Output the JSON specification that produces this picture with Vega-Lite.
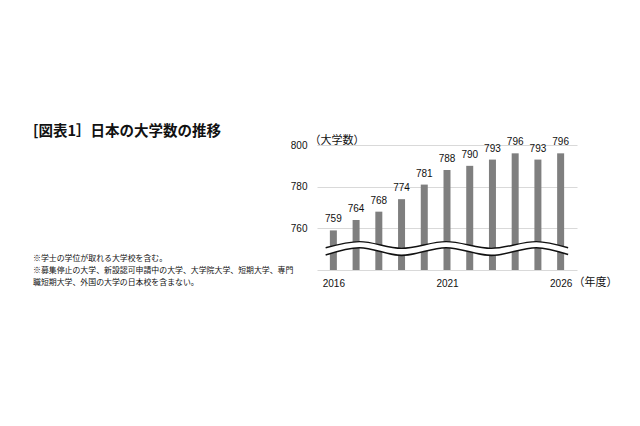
{
  "$schema": "https://vega.github.io/schema/vega-lite/v6.json",
  "width": 260,
  "height": 125,
  "autosize": {"type": "none"},
  "padding": {"left": 317, "top": 145, "right": 63, "bottom": 156},
  "background": "white",
  "config": {"view": {"stroke": null}, "font": "Noto Sans CJK JP"},
  "title": {
    "text": "[図表1］日本の大学数の推移",
    "subtitle": ["※学士の学位が取れる大学校を含む。", "※募集停止の大学、新設認可申請中の大学、大学院大学、短期大学、専門", "職短期大学、外国の大学の日本校を含まない。"],
    "anchor": "start",
    "frame": "group",
    "orient": "top",
    "font": "Noto Sans CJK JP",
    "fontSize": 14.5,
    "fontWeight": "bold",
    "color": "#111111",
    "subtitleFont": "Noto Sans CJK JP",
    "subtitleFontSize": 7.9,
    "subtitleColor": "#111111",
    "subtitleLineHeight": 12,
    "subtitlePadding": 116,
    "offset": -154,
    "dx": -284
  },
  "datasets": {
    "bars": [
      {"year": 2016, "count": 759},
      {"year": 2017, "count": 764},
      {"year": 2018, "count": 768},
      {"year": 2019, "count": 774},
      {"year": 2020, "count": 781},
      {"year": 2021, "count": 788},
      {"year": 2022, "count": 790},
      {"year": 2023, "count": 793},
      {"year": 2024, "count": 796},
      {"year": 2025, "count": 793},
      {"year": 2026, "count": 796}
    ],
    "wave": [
      {"x": 2015.66, "upper": 750.7, "lower": 747.2},
      {"x": 2017.15, "upper": 753.6, "lower": 750.7},
      {"x": 2019.0, "upper": 750.4, "lower": 747.0},
      {"x": 2020.96, "upper": 753.6, "lower": 750.7},
      {"x": 2022.95, "upper": 750.4, "lower": 747.0},
      {"x": 2024.93, "upper": 753.6, "lower": 750.7},
      {"x": 2026.33, "upper": 750.7, "lower": 747.4}
    ]
  },
  "layer": [
    {
      "data": {"name": "bars"},
      "mark": {"type": "bar", "size": 7, "color": "#7f7f7f"},
      "encoding": {
        "x": {
          "field": "year", "type": "quantitative",
          "scale": {"domain": [2015.5, 2026.5], "nice": false, "zero": false},
          "axis": {
            "values": [2016, 2021, 2026], "format": "d",
            "grid": false, "ticks": false, "domain": false,
            "labelFont": "Liberation Sans", "labelFontSize": 10, "labelColor": "#111111",
            "labelPadding": 8,
            "title": "（年度）", "titleFont": "Noto Sans CJK JP", "titleFontSize": 11,
            "titleFontWeight": "normal", "titleColor": "#111111",
            "titleAlign": "left", "titleBaseline": "middle", "titleAnchor": null,
            "titleX": 256, "titleY": 12
          }
        },
        "y": {
          "field": "count", "type": "quantitative",
          "scale": {"domain": [740, 800], "nice": false, "zero": false},
          "axis": {
            "values": [740, 760, 780, 800],
            "labelExpr": "datum.value == 740 ? '' : datum.label",
            "grid": true, "gridColor": "#d9d9d9", "gridWidth": 1,
            "ticks": false, "domain": false,
            "labelFont": "Liberation Sans", "labelFontSize": 10, "labelColor": "#111111",
            "labelPadding": 10,
            "title": "（大学数）", "titleFont": "Noto Sans CJK JP", "titleFontSize": 11,
            "titleFontWeight": "normal", "titleColor": "#111111",
            "titleAngle": 0, "titleAlign": "left", "titleBaseline": "middle", "titleAnchor": null,
            "titleX": -8, "titleY": -5
          }
        },
        "y2": {"datum": 740}
      }
    },
    {
      "data": {"name": "bars"},
      "mark": {"type": "text", "baseline": "alphabetic", "dy": -8, "font": "Liberation Sans", "fontSize": 10, "color": "#111111"},
      "encoding": {
        "x": {"field": "year", "type": "quantitative"},
        "y": {"field": "count", "type": "quantitative"},
        "text": {"field": "count", "type": "quantitative", "format": "d"}
      }
    },
    {
      "data": {"name": "wave"},
      "mark": {"type": "area", "color": "white", "opacity": 1, "interpolate": "monotone"},
      "encoding": {
        "x": {"field": "x", "type": "quantitative"},
        "y": {"field": "upper", "type": "quantitative"},
        "y2": {"field": "lower"}
      }
    },
    {
      "data": {"name": "wave"},
      "mark": {"type": "line", "color": "#111111", "strokeWidth": 1.4, "interpolate": "monotone"},
      "encoding": {
        "x": {"field": "x", "type": "quantitative"},
        "y": {"field": "upper", "type": "quantitative"}
      }
    },
    {
      "data": {"name": "wave"},
      "mark": {"type": "line", "color": "#111111", "strokeWidth": 1.6, "interpolate": "monotone"},
      "encoding": {
        "x": {"field": "x", "type": "quantitative"},
        "y": {"field": "lower", "type": "quantitative"}
      }
    }
  ]
}
